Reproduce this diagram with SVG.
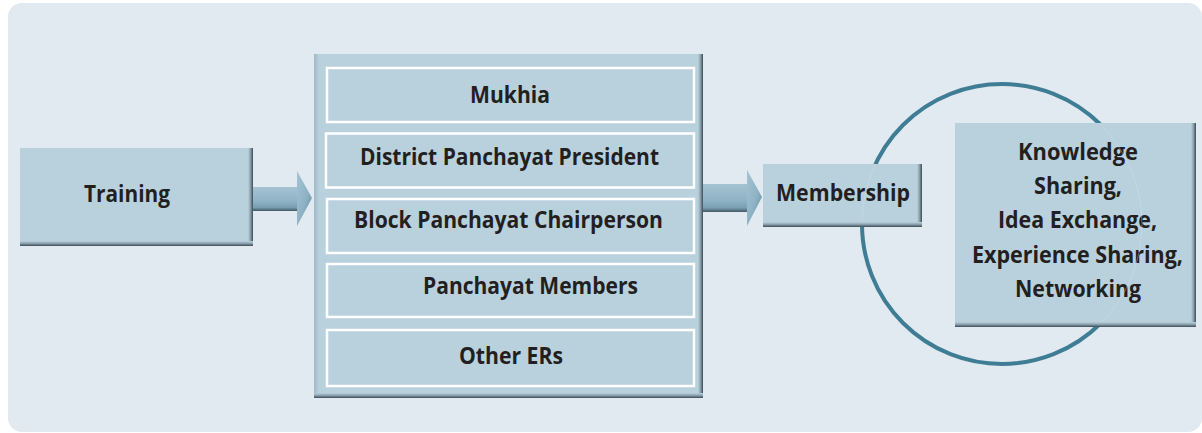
<svg xmlns="http://www.w3.org/2000/svg" width="1202" height="433" viewBox="0 0 1202 433">
  <defs>
    <style>
      .panel { fill: #B9D1DD; }
      .slot { fill: #B9D1DD; stroke: #FFFFFF; stroke-width: 2.5; }
      .label { font-family: "Open Sans", "Liberation Sans", sans-serif; font-weight: 700; font-size: 22.5px; fill: #231F20; text-anchor: middle; }
      .ring { fill: none; stroke: #3F7D95; stroke-width: 4; }
    </style>
    <!-- bevel strips: fade from the panel colour to a dark rim -->
    <linearGradient id="edgeR" x1="0" y1="0" x2="1" y2="0">
      <stop offset="0" stop-color="#B9D1DD"/>
      <stop offset="0.45" stop-color="#8FA6B2"/>
      <stop offset="1" stop-color="#3D4C56"/>
    </linearGradient>
    <linearGradient id="edgeB" x1="0" y1="0" x2="0" y2="1">
      <stop offset="0" stop-color="#B9D1DD"/>
      <stop offset="0.45" stop-color="#8FA6B2"/>
      <stop offset="1" stop-color="#3D4C56"/>
    </linearGradient>
    <linearGradient id="edgeL" x1="0" y1="0" x2="1" y2="0">
      <stop offset="0" stop-color="#9DB8C7"/>
      <stop offset="1" stop-color="#B9D1DD"/>
    </linearGradient>
    <linearGradient id="shaft" x1="0" y1="0" x2="0" y2="1">
      <stop offset="0" stop-color="#A4C3D2"/>
      <stop offset="0.6" stop-color="#8EB2C5"/>
      <stop offset="0.85" stop-color="#7B9FB2"/>
      <stop offset="1" stop-color="#3F5865"/>
    </linearGradient>
    <linearGradient id="head" x1="0" y1="0" x2="1" y2="1">
      <stop offset="0" stop-color="#A4C3D2"/>
      <stop offset="0.55" stop-color="#8EB2C5"/>
      <stop offset="0.85" stop-color="#7193A6"/>
      <stop offset="1" stop-color="#4A6574"/>
    </linearGradient>
    <clipPath id="boxClip">
      <rect x="763" y="164" width="154" height="58"/>
      <rect x="955" y="123" width="236" height="199"/>
    </clipPath>
  </defs>

  <!-- backdrop -->
  <rect x="8" y="3" width="1194" height="429" rx="14" fill="#E1E9F1"/>

  <!-- enclosing ring behind the outcome boxes -->
  <g id="ring">
    <circle class="ring" cx="1002" cy="224" r="140"/>
  </g>

  <!-- connectors -->
  <g id="connectors">
    <g id="arrow-training-roles">
      <rect x="253" y="187" width="45" height="24" fill="url(#shaft)"/>
      <polygon points="297,171 312,198 297,226" fill="url(#head)"/>
    </g>
    <g id="arrow-roles-membership">
      <rect x="703" y="184" width="45" height="28" fill="url(#shaft)"/>
      <polygon points="747,170 762,197 747,226" fill="url(#head)"/>
    </g>
  </g>

  <!-- Training -->
  <g id="training">
    <rect class="panel" x="20" y="148" width="233" height="98"/>
    <rect x="248" y="148" width="5" height="98" fill="url(#edgeR)"/>
    <rect x="20" y="241" width="233" height="5" fill="url(#edgeB)"/>
    <text class="label" x="127" y="202" textLength="86" lengthAdjust="spacingAndGlyphs">Training</text>
  </g>

  <!-- elected representative roles -->
  <g id="roles">
    <rect class="panel" x="314" y="54" width="389" height="344"/>
    <rect x="314" y="54" width="5" height="344" fill="url(#edgeL)"/>
    <rect x="698" y="54" width="5" height="344" fill="url(#edgeR)"/>
    <rect x="314" y="393" width="389" height="5" fill="url(#edgeB)"/>

    <g id="role-mukhia">
      <rect class="slot" x="327" y="68" width="367" height="54"/>
      <text class="label" x="510" y="103" textLength="80" lengthAdjust="spacingAndGlyphs">Mukhia</text>
    </g>
    <g id="role-district-president">
      <rect class="slot" x="326" y="133.5" width="368" height="54"/>
      <text class="label" x="509.5" y="165" textLength="299" lengthAdjust="spacingAndGlyphs">District Panchayat President</text>
    </g>
    <g id="role-block-chairperson">
      <rect class="slot" x="327" y="199" width="367" height="54"/>
      <text class="label" x="508.5" y="228" textLength="309" lengthAdjust="spacingAndGlyphs">Block Panchayat Chairperson</text>
    </g>
    <g id="role-panchayat-members">
      <rect class="slot" x="327" y="264" width="367" height="53"/>
      <text class="label" x="530.5" y="294" textLength="215" lengthAdjust="spacingAndGlyphs">Panchayat Members</text>
    </g>
    <g id="role-other">
      <rect class="slot" x="327" y="330" width="367" height="56"/>
      <text class="label" x="511" y="364" textLength="104" lengthAdjust="spacingAndGlyphs">Other ERs</text>
    </g>
  </g>

  <!-- Membership -->
  <g id="membership">
    <rect class="panel" x="763" y="164" width="159" height="63"/>
    <rect x="917" y="164" width="5" height="63" fill="url(#edgeR)"/>
    <rect x="763" y="222" width="159" height="5" fill="url(#edgeB)"/>
    <text class="label" x="843" y="201" textLength="134" lengthAdjust="spacingAndGlyphs">Membership</text>
  </g>

  <!-- outcomes -->
  <g id="benefits">
    <rect class="panel" x="955" y="123" width="241" height="204"/>
    <rect x="1191" y="123" width="5" height="204" fill="url(#edgeR)"/>
    <rect x="955" y="322" width="241" height="5" fill="url(#edgeB)"/>
    <text class="label" x="1078" y="160" textLength="120" lengthAdjust="spacingAndGlyphs">Knowledge</text>
    <text class="label" x="1078" y="194" textLength="88" lengthAdjust="spacingAndGlyphs">Sharing,</text>
    <text class="label" x="1077.5" y="228" textLength="159" lengthAdjust="spacingAndGlyphs">Idea Exchange,</text>
    <text class="label" x="1077.5" y="263" textLength="211" lengthAdjust="spacingAndGlyphs">Experience Sharing,</text>
    <text class="label" x="1078" y="297" textLength="126" lengthAdjust="spacingAndGlyphs">Networking</text>
  </g>

  <!-- faint trace of the ring seen through the boxes -->
  <circle cx="1002" cy="224" r="140" fill="none" stroke="#D4E2EA" stroke-width="0.8" opacity="0.45" clip-path="url(#boxClip)"/>
</svg>
